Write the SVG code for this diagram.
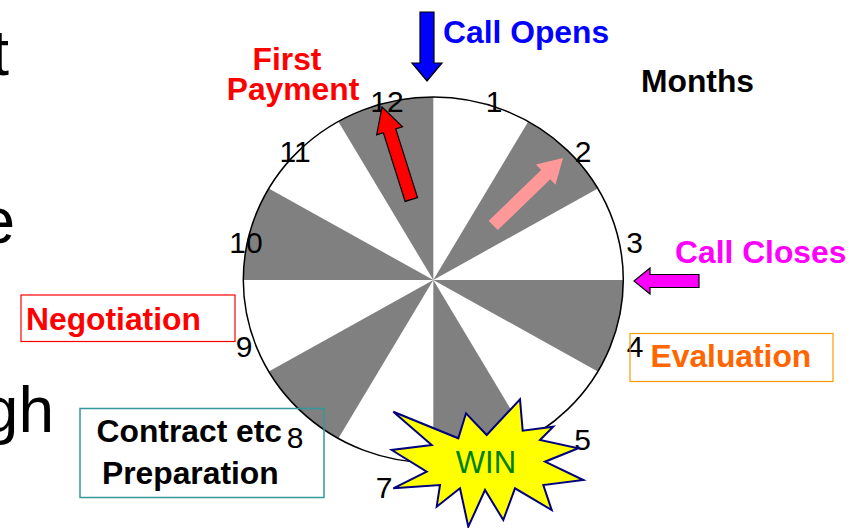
<svg xmlns="http://www.w3.org/2000/svg" width="861" height="528" viewBox="0 0 861 528">
<style>
  .big { font-family: "Liberation Sans", Arial, sans-serif; font-size: 64px; fill: #000; }
  .lbl { font-family: "Liberation Sans", Arial, sans-serif; font-size: 31.8px; font-weight: bold; }
  .num { font-family: "Liberation Sans", Arial, sans-serif; font-size: 30px; fill: #000; text-anchor: middle; }
  .gray { fill: #808080; stroke: none; }
  .arrow { stroke: #000; stroke-width: 1.2; }
</style>
<rect x="0" y="0" width="861" height="528" fill="#fff"/>

<g id="slide-text">
  <text class="big" x="9" y="75" text-anchor="end">t</text>
  <text class="big" x="15" y="243" text-anchor="end">e</text>
  <text class="big" x="54" y="432" text-anchor="end">gh</text>
</g>

<g id="clock">
  <ellipse cx="433.3" cy="280" rx="190" ry="183" fill="#fff"/>
  <path class="gray" d="M433.3,280 L528.3,121.5 A190,183 0 0 1 597.8,188.5 Z"/>
  <path class="gray" d="M433.3,280 L623.3,280 A190,183 0 0 1 597.8,371.5 Z"/>
  <path class="gray" d="M433.3,280 L528.3,438.5 A190,183 0 0 1 433.3,463 Z"/>
  <path class="gray" d="M433.3,280 L338.3,438.5 A190,183 0 0 1 268.8,371.5 Z"/>
  <path class="gray" d="M433.3,280 L243.3,280 A190,183 0 0 1 268.8,188.5 Z"/>
  <path class="gray" d="M433.3,280 L338.3,121.5 A190,183 0 0 1 433.3,97 Z"/>
  <ellipse cx="433.3" cy="280" rx="190" ry="183" fill="none" stroke="#000" stroke-width="1.5"/>
</g>

<g id="numbers">
  <text class="num" x="387" y="112">12</text>
  <text class="num" x="494" y="112">1</text>
  <text class="num" x="583" y="162">2</text>
  <text class="num" x="634.5" y="253">3</text>
  <text class="num" x="635" y="357">4</text>
  <text class="num" x="582.5" y="450">5</text>
  <text class="num" x="384" y="498">7</text>
  <text class="num" x="295" y="448">8</text>
  <text class="num" x="244" y="357">9</text>
  <text class="num" x="246" y="253">10</text>
  <text class="num" x="295" y="162">11</text>
</g>

<g id="months">
  <text class="lbl" x="641" y="92" fill="#000">Months</text>
</g>

<g id="connectors">
  <polygon id="call-opens-arrow" class="arrow" fill="#0000FF" points="420,12 434,12 434,63 442,63 427,81 412,63 420,63"/>
  <polygon id="call-closes-arrow" class="arrow" fill="#FF00FF" points="699,274.5 699,287.5 650,287.5 650,294 634,281 650,268 650,274.5"/>
  <polygon id="first-payment-arrow" class="arrow" fill="#FF0000" points="0,0 13.5,25 6.5,25 6.5,97 -6.5,97 -6.5,25 -13.5,25" transform="translate(382,107) rotate(-17.6)"/>
  <polygon id="progress-arrow" fill="#FF9999" points="0,0 14,24 6.5,24 6.5,97 -6.5,97 -6.5,24 -14,24" transform="translate(563,158) rotate(46)"/>
</g>

<g id="call-opens">
  <text class="lbl" x="443" y="43" fill="#0000FF">Call Opens</text>
</g>

<g id="first-payment">
  <text class="lbl" x="287" y="70" fill="#FF0000" text-anchor="middle">First</text>
  <text class="lbl" x="293" y="100" fill="#FF0000" text-anchor="middle">Payment</text>
</g>

<g id="call-closes">
  <text class="lbl" x="675" y="263" fill="#FF00FF">Call Closes</text>
</g>

<g id="evaluation">
  <rect x="630" y="333.5" width="203" height="48" fill="none" stroke="#FF9900" stroke-width="1.2"/>
  <text class="lbl" x="650.5" y="367" fill="#FF6600">Evaluation</text>
</g>

<g id="negotiation">
  <rect x="21" y="295" width="214" height="46.5" fill="none" stroke="#FF0000" stroke-width="1.2"/>
  <text class="lbl" x="26" y="330" fill="#FF0000">Negotiation</text>
</g>

<g id="contract">
  <rect x="80" y="408.5" width="244" height="89" fill="none" stroke="#339999" stroke-width="1.5"/>
  <text class="lbl" x="96.5" y="442" fill="#000">Contract etc</text>
  <text class="lbl" x="102" y="484" fill="#000">Preparation</text>
</g>

<g id="win">
  <polygon fill="#FFFF00" stroke="#000080" stroke-width="2" stroke-linejoin="miter" points="520,399.3 522.7,430.7 553.3,426.7 540,440 578.3,448.3 545,461.7 583.3,480 543.3,485 551.7,510 515,488.3 503.3,520 485,490 468.3,526.7 460,488.3 436.7,506.7 440,485 393.3,488.3 426.7,471.7 391.7,450 431.7,445 393.3,411.7 458.3,438.3 466,413.3 486.7,435"/>
  <text x="486" y="473" text-anchor="middle" font-family="'Liberation Sans', Arial, sans-serif" font-size="31" fill="#008000">WIN</text>
</g>
</svg>
